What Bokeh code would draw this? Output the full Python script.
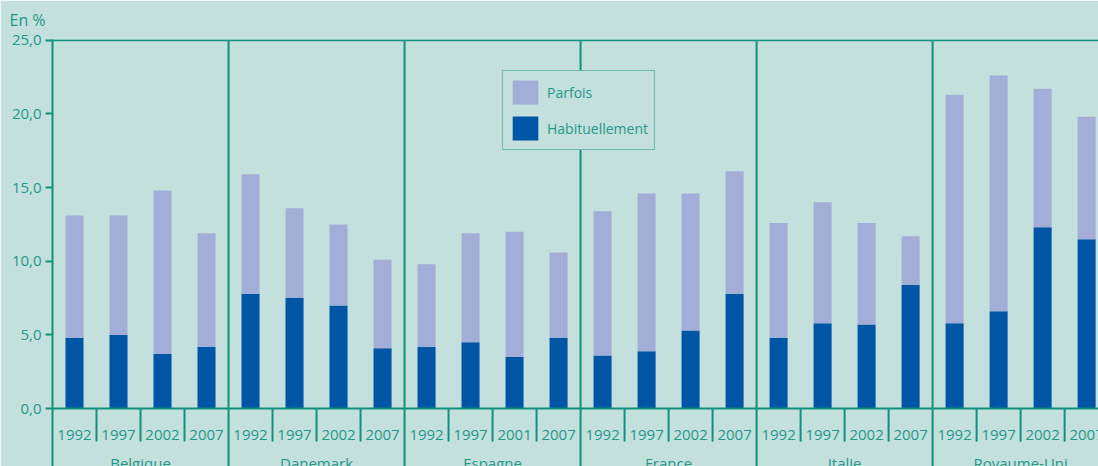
from bokeh.plotting import figure
from bokeh.models import Range1d, FixedTicker, Legend, LegendItem, ColumnDataSource
from bokeh.core.properties import value
from bokeh.embed import file_html
from bokeh.resources import INLINE

# ---- data ----
countries = ["Belgique", "Danemark", "Espagne", "France", "Italie", "Royaume-Uni"]
years = [
    ["1992", "1997", "2002", "2007"],
    ["1992", "1997", "2002", "2007"],
    ["1992", "1997", "2001", "2007"],
    ["1992", "1997", "2002", "2007"],
    ["1992", "1997", "2002", "2007"],
    ["1992", "1997", "2002", "2007"],
]
habituellement = [4.8, 5.0, 3.7, 4.2,
                  7.8, 7.5, 7.0, 4.1,
                  4.2, 4.5, 3.5, 4.8,
                  3.6, 3.9, 5.3, 7.8,
                  4.8, 5.8, 5.7, 8.4,
                  5.8, 6.6, 12.3, 11.5]
parfois = [8.3, 8.1, 11.1, 7.7,
           8.1, 6.1, 5.5, 6.0,
           5.6, 7.4, 8.5, 5.8,
           9.8, 10.7, 9.3, 8.3,
           7.8, 8.2, 6.9, 3.3,
           15.5, 16.0, 9.4, 8.3]
y_ticks = [0, 5, 10, 15, 20, 25]
y_tick_labels = ["0,0", "5,0", "10,0", "15,0", "20,0", "25,0"]
unit_label = "En %"
series_names = ["Parfois", "Habituellement"]

# ---- styling ----
BG = "#c4e0dc"
LINE = "#11917d"
TEXT = "#23998a"
LIGHT = "#a3aed8"
DARK = "#0055a5"
FONT = "Open Sans"

n_per = 4
n = len(habituellement)
xs = [i + 0.5 for i in range(n)]
tops = [h + p for h, p in zip(habituellement, parfois)]

src = ColumnDataSource(dict(x=xs, hab=habituellement, top=tops))

y_bottom = -3.93
y_top = 25.05

p = figure(width=1098, height=466, output_backend="svg", toolbar_location=None,
           x_range=Range1d(0, 23.77), y_range=Range1d(y_bottom, y_top),
           x_axis_location=None, min_border_left=52, min_border_top=39,
           min_border_bottom=0, min_border_right=0)
p.background_fill_color = BG
p.border_fill_color = BG
p.outline_line_color = None
p.xgrid.visible = False
p.ygrid.visible = False

# unit label as title
p.title.text = unit_label
p.title.align = "left"
p.title.vertical_align = "top"
p.title.offset = -43
p.title.text_color = TEXT
p.title.text_font = FONT
p.title.text_font_style = "normal"
p.title.text_font_size = "16px"
p.title.standoff = 14

# bars
r_h = p.vbar(x="x", top="hab", bottom=0, width=0.41, source=src,
             fill_color=DARK, line_color=None)
r_p = p.vbar(x="x", top="top", bottom="hab", width=0.41, source=src,
             fill_color=LIGHT, line_color=None)

# axis lines: x baseline and top line
p.segment(x0=[0, 0], y0=[0, 25], x1=[n, n], y1=[0, 25], line_color=LINE, line_width=2)

# group separators (full height)
gx = [g * n_per for g in range(1, len(countries))]
p.segment(x0=gx, y0=[y_bottom] * len(gx), x1=gx, y1=[25] * len(gx),
          line_color=LINE, line_width=2)

# year separators (short)
yx = [i for i in range(1, n) if i % n_per != 0]
p.segment(x0=yx, y0=[0] * len(yx), x1=yx, y1=[-2.24] * len(yx),
          line_color=LINE, line_width=2)

# year labels
year_flat = [y for grp in years for y in grp]
p.text(x=xs, y=[-1.78] * n, text=year_flat, text_align="center",
       text_baseline="middle", text_color=TEXT, text_font=value(FONT),
       text_font_size="15px")

# country labels
cx = [g * n_per + n_per / 2 for g in range(len(countries))]
p.text(x=cx, y=[-2.98] * len(cx), text=countries, text_align="center",
       text_baseline="top", text_color=TEXT, text_font=value(FONT),
       text_font_size="15px")

# y axis
yax = p.yaxis[0]
yax.ticker = FixedTicker(ticks=y_ticks)
yax.major_label_overrides = {t: l for t, l in zip(y_ticks, y_tick_labels)}
yax.axis_line_color = LINE
yax.axis_line_width = 2
yax.major_tick_line_color = LINE
yax.major_tick_line_width = 2
yax.major_tick_out = 7
yax.major_tick_in = 0
yax.minor_tick_line_color = None
yax.major_label_text_color = TEXT
yax.major_label_text_font = FONT
yax.major_label_text_font_size = "15px"
yax.major_label_standoff = 4

legend = Legend(items=[LegendItem(label=series_names[0], renderers=[r_p]),
                       LegendItem(label=series_names[1], renderers=[r_h])],
                location=(450, 316), glyph_width=32, glyph_height=30,
                spacing=6, padding=6, margin=0, label_standoff=6,
                border_line_color=LINE, border_line_width=1.5,
                background_fill_color=BG, background_fill_alpha=1,
                label_text_color=TEXT, label_text_font=FONT,
                label_text_font_size="14px")
p.add_layout(legend, "center")

open("out.html", "w").write(file_html(p, INLINE))
